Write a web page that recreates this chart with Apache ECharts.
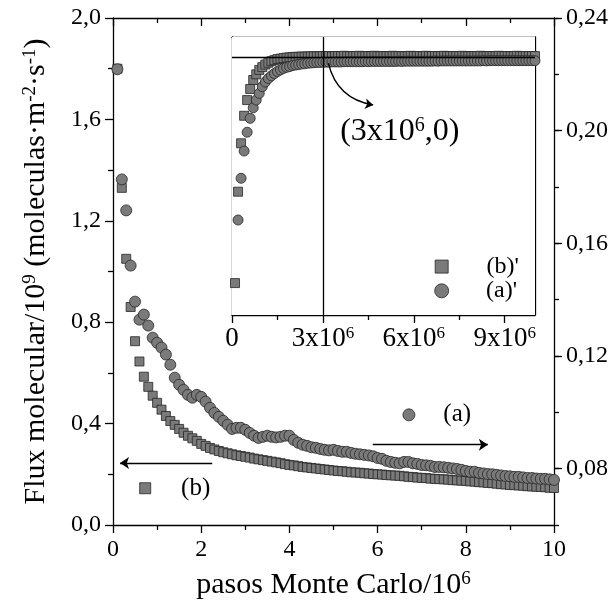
<!DOCTYPE html>
<html>
<head>
<meta charset="utf-8">
<script src="https://cdn.jsdelivr.net/npm/echarts@6/dist/echarts.min.js"></script>
<style>
  html, body { margin: 0; padding: 0; background: #fff; }
  #chart { width: 615px; height: 611px; }
</style>
</head>
<body>
<div id="chart"></div>
<script>
// Monte Carlo steps (units of 10^6)
const pasos = [
  0.1,0.2,0.3,0.4,0.5,0.6,0.7,0.8,0.9,1.0,
  1.1,1.2,1.3,1.4,1.5,1.6,1.7,1.8,1.9,2.0,
  2.1,2.2,2.3,2.4,2.5,2.6,2.7,2.8,2.9,3.0,
  3.1,3.2,3.3,3.4,3.5,3.6,3.7,3.8,3.9,4.0,
  4.1,4.2,4.3,4.4,4.5,4.6,4.7,4.8,4.9,5.0,
  5.1,5.2,5.3,5.4,5.5,5.6,5.7,5.8,5.9,6.0,
  6.1,6.2,6.3,6.4,6.5,6.6,6.7,6.8,6.9,7.0,
  7.1,7.2,7.3,7.4,7.5,7.6,7.7,7.8,7.9,8.0,
  8.1,8.2,8.3,8.4,8.5,8.6,8.7,8.8,8.9,9.0,
  9.1,9.2,9.3,9.4,9.5,9.6,9.7,9.8,9.9,10.0
];

// (b): molecular flux, left axis
const fluxB = [
  1.80,1.33,1.05,0.86,0.725,0.645,0.585,0.545,0.510,0.482,
  0.455,0.430,0.410,0.395,0.379,0.364,0.352,0.342,0.332,0.320,
  0.312,0.304,0.298,0.292,0.287,0.283,0.279,0.275,0.272,0.269,
  0.266,0.262,0.259,0.256,0.253,0.250,0.247,0.244,0.240,0.237,
  0.235,0.232,0.229,0.227,0.225,0.223,0.221,0.219,0.217,0.215,
  0.213,0.212,0.210,0.208,0.207,0.206,0.204,0.203,0.201,0.200,
  0.199,0.197,0.196,0.195,0.194,0.192,0.190,0.189,0.187,0.186,
  0.185,0.183,0.182,0.181,0.180,0.179,0.177,0.176,0.175,0.174,
  0.172,0.171,0.169,0.168,0.166,0.165,0.163,0.161,0.160,0.158,
  0.157,0.156,0.155,0.153,0.152,0.151,0.150,0.149,0.147,0.146
];

// (a): molecular flux, right axis
const fluxA = [
  0.2218,0.1827,0.1717,0.1521,0.1393,0.1329,0.1347,0.1308,0.1265,0.1247,
  0.1230,0.1205,0.1169,0.1123,0.1098,0.1080,0.1062,0.1052,0.1062,0.1055,
  0.1038,0.1016,0.0998,0.0984,0.0970,0.0956,0.0941,0.0945,0.0945,0.0938,
  0.0927,0.0917,0.0909,0.0913,0.0917,0.0913,0.0911,0.0913,0.0917,0.0917,
  0.0902,0.0892,0.0885,0.0881,0.0876,0.0874,0.0870,0.0867,0.0865,0.0867,
  0.0863,0.0860,0.0860,0.0856,0.0853,0.0851,0.0849,0.0847,0.0844,0.0838,
  0.0835,0.0828,0.0824,0.0821,0.0819,0.0824,0.0824,0.0819,0.0817,0.0813,
  0.0812,0.0810,0.0806,0.0806,0.0805,0.0803,0.0801,0.0799,0.0796,0.0792,
  0.0789,0.0789,0.0785,0.0783,0.0781,0.0780,0.0778,0.0776,0.0774,0.0773,
  0.0771,0.0771,0.0769,0.0767,0.0767,0.0765,0.0764,0.0764,0.0762,0.0760
];

// Inset (b)'
const insetB = [
  -0.876,-0.521,-0.333,-0.226,-0.165,-0.122,-0.087,-0.065,-0.048,-0.037,
  -0.027,-0.020,-0.014,-0.010,-0.006,-0.004,-0.002,0.000,0.001,0.002,
  0.003,0.003,0.004,0.004,0.004,0.005,0.005,0.005,0.005,0.006,
  0.006,0.006,0.005,0.006,0.006,0.006,0.007,0.006,0.006,0.006,
  0.006,0.007,0.006,0.006,0.006,0.006,0.007,0.006,0.006,0.006,
  0.006,0.006,0.007,0.006,0.006,0.006,0.006,0.006,0.007,0.006,
  0.006,0.006,0.006,0.007,0.006,0.006,0.006,0.006,0.006,0.007,
  0.006,0.006,0.006,0.006,0.006,0.007,0.006,0.006,0.006,0.006,
  0.006,0.007,0.006,0.006,0.006,0.006,0.006,0.007,0.006,0.006,
  0.006,0.006,0.006,0.007,0.006,0.006,0.006,0.006,0.006,0.006
];

// Inset (a)' (first sample 0.2)
const insetA = [
  -0.631,-0.469,-0.363,-0.290,-0.236,-0.195,-0.165,-0.139,-0.113,
  -0.095,-0.081,-0.071,-0.062,-0.054,-0.048,-0.042,-0.038,-0.035,-0.031,
  -0.029,-0.027,-0.025,-0.024,-0.022,-0.021,-0.020,-0.019,-0.019,-0.018,
  -0.018,-0.018,-0.017,-0.017,-0.017,-0.017,-0.016,-0.016,-0.016,-0.016,
  -0.016,-0.016,-0.016,-0.015,-0.016,-0.015,-0.015,-0.015,-0.015,-0.015,
  -0.015,-0.015,-0.015,-0.015,-0.014,-0.015,-0.014,-0.014,-0.014,-0.014,
  -0.014,-0.014,-0.014,-0.014,-0.014,-0.014,-0.013,-0.014,-0.013,-0.013,
  -0.013,-0.013,-0.013,-0.013,-0.013,-0.013,-0.013,-0.013,-0.013,-0.013,
  -0.013,-0.013,-0.012,-0.013,-0.012,-0.012,-0.012,-0.012,-0.012,-0.012,
  -0.012,-0.012,-0.012,-0.012,-0.012,-0.012,-0.012,-0.012,-0.012,-0.012
];

// Tick values
const yTicksRight = [0.08, 0.12, 0.16, 0.20, 0.24];
const xTicksInset = [0, 3, 6, 9];
const xMinorInset = [1.5, 4.5, 7.5];
const xTopInset = [1.5, 3, 4.5, 6, 7.5, 9];

const FONT = 'Liberation Serif';
const FILL = '#7a7a7a';
const EDGE = '#262626';

const zip = (xs, ys) => ys.map((y, i) => [xs[i], y]);
const comma = (v, d) => v.toFixed(d).replace('.', ',');

const axisLine = { show: true, onZero: false, lineStyle: { color: '#000', width: 1.3 } };
const tickStyle = { color: '#000', width: 1.3 };
const hidden = { show: false };

const markerStyle = { color: FILL, borderColor: EDGE, borderWidth: 0.8, opacity: 1 };
const keyText = (txt, dist, size) => ({
  show: true, position: 'right', distance: dist, formatter: txt,
  fontFamily: FONT, fontSize: size, color: '#000', opacity: 1,
  textBorderWidth: 0, textShadowBlur: 0
});

const chart = echarts.init(document.getElementById('chart'), null, { renderer: 'canvas' });

const option = {
  animation: false,
  backgroundColor: '#fff',
  grid: [
    { left: 113, right: 61, top: 18, bottom: 86 },
    { left: 232, right: 80, top: 37, bottom: 296, show: true, backgroundColor: '#fff', borderWidth: 0, z: 1 }
  ],
  xAxis: [
    { // main, bottom
      gridIndex: 0, type: 'value', min: 0, max: 10, interval: 2, position: 'bottom',
      axisLine, splitLine: hidden,
      axisTick: { show: true, length: 8, lineStyle: tickStyle },
      minorTick: { show: true, splitNumber: 2, length: 5, lineStyle: tickStyle },
      axisLabel: { fontFamily: FONT, fontSize: 24, color: '#000', margin: 13 },
      name: '{t|pasos Monte Carlo/10}{s|6}',
      nameLocation: 'middle', nameGap: 45,
      nameTextStyle: {
        color: '#000',
        rich: {
          t: { fontFamily: FONT, fontSize: 30, color: '#000' },
          s: { fontFamily: FONT, fontSize: 19, color: '#000', verticalAlign: 'top' }
        }
      }
    },
    { // main, top
      gridIndex: 0, type: 'value', min: 0, max: 10, interval: 2, position: 'top',
      axisLine, splitLine: hidden,
      axisTick: { show: true, inside: true, length: 8, lineStyle: tickStyle },
      minorTick: { show: true, splitNumber: 2, length: 5, lineStyle: tickStyle },
      axisLabel: hidden
    },
    { // inset, bottom (major ticks and labels)
      gridIndex: 1, type: 'value', min: 0, max: 10, position: 'bottom',
      axisLine, splitLine: hidden,
      axisTick: { show: true, length: 8, lineStyle: tickStyle, customValues: xTicksInset },
      axisLabel: {
        show: true, margin: 10, customValues: xTicksInset,
        formatter: v => v === 0 ? '{t|0}' : '{t|' + v + 'x10}{s|6}',
        rich: {
          t: { fontFamily: FONT, fontSize: 27, color: '#000' },
          s: { fontFamily: FONT, fontSize: 17, color: '#000', verticalAlign: 'top' }
        }
      }
    },
    { // inset, bottom (minor ticks)
      gridIndex: 1, type: 'value', min: 0, max: 10, position: 'bottom',
      axisLine: { show: false, onZero: false }, splitLine: hidden,
      axisTick: { show: true, length: 5, lineStyle: tickStyle, customValues: xMinorInset },
      axisLabel: hidden
    },
    { // inset, top
      gridIndex: 1, type: 'value', min: 0, max: 10, position: 'top',
      axisLine, splitLine: hidden,
      axisTick: { show: true, inside: true, length: 4, lineStyle: tickStyle, customValues: xTopInset },
      axisLabel: hidden
    }
  ],
  yAxis: [
    { // main, left: (b)
      gridIndex: 0, type: 'value', min: 0, max: 2, interval: 0.4, position: 'left',
      axisLine, splitLine: hidden,
      axisTick: { show: true, length: 8, lineStyle: tickStyle },
      minorTick: { show: true, splitNumber: 2, length: 5, lineStyle: tickStyle },
      axisLabel: { fontFamily: FONT, fontSize: 24, color: '#000', margin: 12,
                   formatter: v => comma(v, 1) },
      name: '{t|Flux molecular/10}{s|9}{t| (moleculas·m}{s|-2}{t|·s}{s|-1}{t|)}',
      nameLocation: 'middle', nameGap: 62,
      nameTextStyle: {
        color: '#000',
        rich: {
          t: { fontFamily: FONT, fontSize: 30, color: '#000' },
          s: { fontFamily: FONT, fontSize: 19, color: '#000', verticalAlign: 'top' }
        }
      }
    },
    { // main, right: (a), minor ticks
      gridIndex: 0, type: 'value', min: 0.06, max: 0.24, interval: 0.02, position: 'right',
      axisLine, splitLine: hidden,
      axisTick: { show: true, length: 5, lineStyle: tickStyle },
      axisLabel: hidden
    },
    { // main, right: major ticks and labels
      gridIndex: 0, type: 'value', min: 0.06, max: 0.24, position: 'right',
      axisLine: { show: false, onZero: false }, splitLine: hidden,
      axisTick: { show: true, length: 8, lineStyle: tickStyle, customValues: yTicksRight },
      axisLabel: { show: true, customValues: yTicksRight, fontFamily: FONT, fontSize: 24,
                   color: '#000', margin: 12, formatter: v => comma(v, 2) }
    },
    { // inset, left
      gridIndex: 1, type: 'value', min: -1, max: 0.08, position: 'left',
      axisLine, splitLine: hidden, axisTick: hidden, axisLabel: hidden
    },
    { // inset, right
      gridIndex: 1, type: 'value', min: -1, max: 0.08, position: 'right',
      axisLine, splitLine: hidden, axisTick: hidden, axisLabel: hidden
    }
  ],
  series: [
    {
      name: '(b)', type: 'scatter', xAxisIndex: 0, yAxisIndex: 0,
      symbol: 'rect', symbolSize: 9, itemStyle: markerStyle,
      data: zip(pasos, fluxB), z: 3
    },
    {
      name: '(a)', type: 'scatter', xAxisIndex: 0, yAxisIndex: 1,
      symbol: 'circle', symbolSize: 11, itemStyle: markerStyle,
      data: zip(pasos, fluxA), z: 4
    },
    { // key for (b)
      type: 'scatter', xAxisIndex: 0, yAxisIndex: 0, symbol: 'rect', symbolSize: 11,
      itemStyle: markerStyle, data: [[0.73, 0.145]], z: 4,
      label: keyText('(b)', 30, 25)
    },
    { // key for (a)
      type: 'scatter', xAxisIndex: 0, yAxisIndex: 1, symbol: 'circle', symbolSize: 12,
      itemStyle: markerStyle, data: [[6.71, 0.0991]], z: 4,
      label: keyText('(a)', 28, 25)
    },
    { // axis arrow for (b)
      type: 'lines', coordinateSystem: 'cartesian2d', xAxisIndex: 0, yAxisIndex: 0,
      symbol: ['none', 'arrow'], symbolSize: 9,
      lineStyle: { color: '#000', width: 1.3, opacity: 1 },
      data: [{ coords: [[2.25, 0.245], [0.16, 0.245]] }], z: 5
    },
    { // axis arrow for (a)
      type: 'lines', coordinateSystem: 'cartesian2d', xAxisIndex: 0, yAxisIndex: 1,
      symbol: ['none', 'arrow'], symbolSize: 9,
      lineStyle: { color: '#000', width: 1.3, opacity: 1 },
      data: [{ coords: [[5.89, 0.0885], [8.5, 0.0885]] }], z: 5
    },
    {
      name: "(b)'", type: 'scatter', xAxisIndex: 2, yAxisIndex: 3,
      symbol: 'rect', symbolSize: 9, itemStyle: markerStyle,
      data: zip(pasos, insetB), z: 3,
      markLine: {
        silent: true, symbol: 'none', label: hidden,
        lineStyle: { color: '#000', width: 1.3, type: 'solid', opacity: 1 },
        data: [{ xAxis: 3 }, { yAxis: 0 }]
      }
    },
    {
      name: "(a)'", type: 'scatter', xAxisIndex: 2, yAxisIndex: 3,
      symbol: 'circle', symbolSize: 10, itemStyle: markerStyle,
      data: zip(pasos.slice(1), insetA), z: 4
    },
    { // key for (b)'
      type: 'scatter', xAxisIndex: 2, yAxisIndex: 3, symbol: 'rect', symbolSize: 13,
      itemStyle: markerStyle, data: [[6.92, -0.812]], z: 4,
      label: keyText("(b)'", 38, 24)
    },
    { // key for (a)'
      type: 'scatter', xAxisIndex: 2, yAxisIndex: 3, symbol: 'circle', symbolSize: 14,
      itemStyle: markerStyle, data: [[6.92, -0.906]], z: 4,
      label: keyText("(a)'", 37, 24)
    },
    { // pointer to the crossing point
      type: 'lines', coordinateSystem: 'cartesian2d', xAxisIndex: 2, yAxisIndex: 3,
      symbol: ['none', 'arrow'], symbolSize: 8,
      lineStyle: { color: '#000', width: 1.3, opacity: 1, curveness: -0.33 },
      data: [{ coords: [[3.18, -0.022], [4.66, -0.184]] }], z: 5
    },
    { // crossing point annotation
      type: 'scatter', xAxisIndex: 2, yAxisIndex: 3, symbolSize: 0,
      itemStyle: { opacity: 1 },
      data: [[5.54, -0.288]], z: 5,
      label: {
        show: true, position: 'inside', opacity: 1, textBorderWidth: 0,
        formatter: '{t|(3x10}{s|6}{t|,0)}',
        rich: {
          t: { fontFamily: FONT, fontSize: 32, color: '#000' },
          s: { fontFamily: FONT, fontSize: 20, color: '#000', verticalAlign: 'top' }
        }
      }
    }
  ]
};

chart.setOption(option);
</script>
</body>
</html>
